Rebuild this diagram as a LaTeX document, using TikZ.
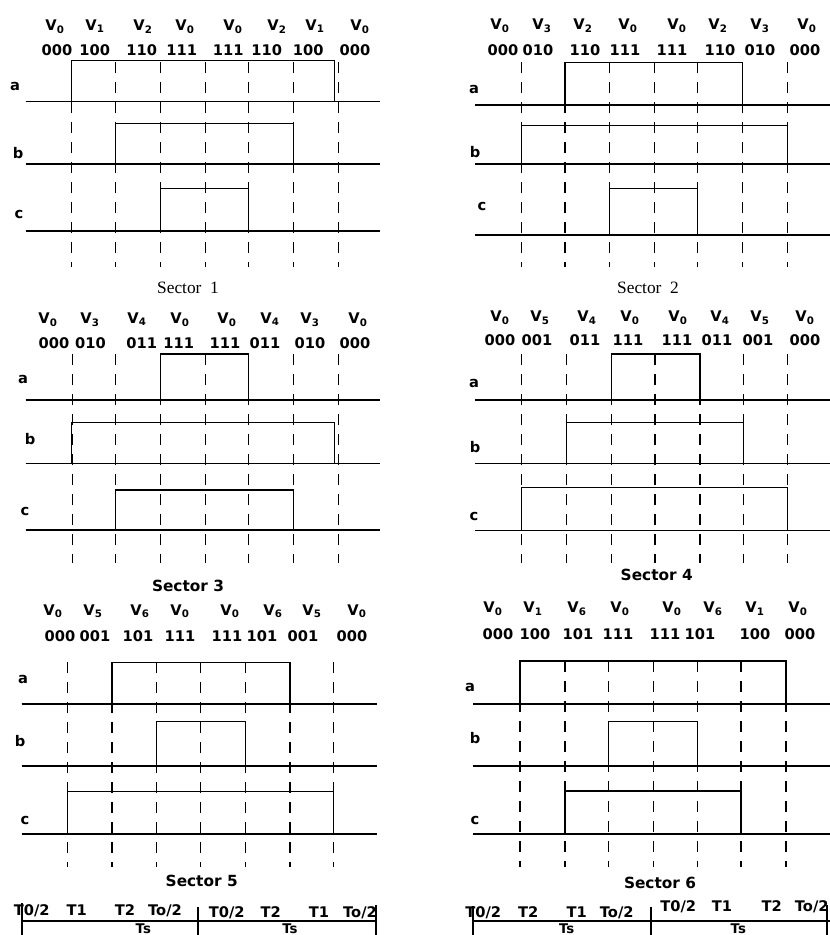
\documentclass[tikz,border=0pt]{standalone}
\usepackage{fontspec}
\setmainfont{DejaVu Sans}
\newfontfamily\timesfont{Liberation Serif}
\usepackage{tikz}
\usetikzlibrary{positioning}

\begin{document}
\begin{tikzpicture}[
  x=0.75pt, y=-0.75pt,
  txt/.style={font=\fontsize{11}{13}\selectfont\bfseries, inner sep=0pt, anchor=base},
  sector/.style={font=\fontsize{11.5}{13}\selectfont\bfseries, inner sep=0pt, anchor=base},
  oldsector/.style={font=\timesfont\fontsize{13}{15}\selectfont, inner sep=0pt, anchor=base},
  slot/.style={line width=1pt, dash pattern=on 8.5pt off 6.5pt},
  rail/.style={line width=1pt},
  wave/.style={line width=1pt},
  tbar/.style={line width=1.3pt}
]
\useasboundingbox (0,0) rectangle (830,935);

% switching instants
\foreach \x in {71.7,115.7,160.7,205.3,248.3,293.3,338.3}
  \draw[slot] (\x,62) -- (\x,267);
\foreach \x in {521.7,565,609.3,654.3,697.7,742.7,787.7}
  \draw[slot] (\x,62) -- (\x,267);
\foreach \x in {72.3,115.7,160.7,205.3,248.3,293.3,338.3}
  \draw[slot] (\x,354) -- (\x,563);
\foreach \x in {521.7,566.7,611.7,655,700,743.3,787.7}
  \draw[slot] (\x,354) -- (\x,563);
\foreach \x in {67.3,112,156.7,200.3,245.3,290,333.3}
  \draw[slot] (\x,662) -- (\x,867);
\foreach \x in {520,565,608.3,653.3,697.7,741,786}
  \draw[slot] (\x,661) -- (\x,867);

% phase waveforms
\foreach \L/\R/\yb/\yh/\xs/\xe/\w in {
  25.7/380/101.7/60.7/71.7/334.3/1,
  25.7/380/164/123.3/115.7/293.3/1,
  25.7/380/231/188.3/160.7/248.3/1,
  475/830/105/62.7/565/742.7/1,
  475/830/164/125.7/521.7/787.7/2.2,
  475/830/235/188.3/609.3/697.7/1,
  25.7/380/400/354/160.7/248.3/1,
  25.7/380/463.3/422.3/71.7/334.3/1,
  25.7/380/530/490/115.7/293.3/2.2,
  475/830/400/354/611.7/700/1,
  475/830/463.3/422.3/566.7/743.3/1,
  475/830/530.7/487.3/521.7/787.7/1,
  21.7/376.7/704/662.7/112/290/2.2,
  21.7/376.7/766/721.7/156.7/245.3/2.2,
  21.7/376.7/834/791.7/67.3/333.3/2.2,
  473.3/830/704/661/520/786/2.2,
  473.3/830/766/721.7/608.3/697.7/2.2,
  473.3/830/834/791/565/741/2.2}
{
  \draw[rail] (\L,\yb) -- (\R,\yb);
  \draw[wave] (\xs,\yb) -- (\xs,\yh) -- (\xe,\yh) -- (\xe,\yb);
  \draw[line width=\w pt] (\L,\yb) -- (\xs,\yb) (\xe,\yb) -- (\R,\yb);
}

% sector 1
\foreach \x/\s [count=\i] in {55/0,95/1,143/2,185/0,233/0,277/2,315/1,360/0}
  \node[txt] (s1v\i) at (\x,30.5) {V\textsubscript{\s}};
\foreach \x/\c [count=\i] in {57/000,94.7/100,141.7/110,181.7/111,228.3/111,266.7/110,308.3/100,355/000}
  \node[txt] (s1c\i) at (\x,55) {\c};
\foreach \n/\x/\y in {a/15/90.7,b/18/158.3,c/19/218.3}
  \node[txt] (s1\n) at (\x,\y) {\n};
\node[oldsector] (sec1) at (188,293.3) {Sector\ \ 1};

% sector 2
\foreach \x/\s [count=\i] in {500/0,542/3,583/2,628/0,677/0,718/2,760/3,807/0}
  \node[txt] (s2v\i) at (\x,29.5) {V\textsubscript{\s}};
\foreach \x/\c [count=\i] in {503/000,538/010,585/110,625/111,672/111,720/110,760/010,805/000}
  \node[txt] (s2c\i) at (\x,55) {\c};
\foreach \n/\x/\y in {a/474/93.3,b/475/157.3,c/482/210.7}
  \node[txt] (s2\n) at (\x,\y) {\n};
\node[oldsector] (sec2) at (648,293.3) {Sector\ \ 2};

% sector 3
\foreach \x/\s [count=\i] in {48/0,90/3,137/4,180/0,227/0,270/4,310/3,358/0}
  \node[txt] (s3v\i) at (\x,323.5) {V\textsubscript{\s}};
\foreach \x/\c [count=\i] in {54/000,90.5/010,141.7/011,178.8/111,225/111,265/011,310/010,355/000}
  \node[txt] (s3c\i) at (\x,348.3) {\c};
\foreach \n/\x/\y in {a/23/383.3,b/30/444,c/25/515}
  \node[txt] (s3\n) at (\x,\y) {\n};
\node[sector] (sec3) at (188,591.7) {Sector 3};

% sector 4
\foreach \x/\s [count=\i] in {500/0,540/5,587/4,630/0,678/0,720/4,760/5,805/0}
  \node[txt] (s4v\i) at (\x,321.7) {V\textsubscript{\s}};
\foreach \x/\c [count=\i] in {500/000,537/001,585/011,628/111,677/111,717/011,758/001,805/000}
  \node[txt] (s4c\i) at (\x,345) {\c};
\foreach \n/\x/\y in {a/474/387.3,b/475/452.3,c/474/520}
  \node[txt] (s4\n) at (\x,\y) {\n};
\node[sector] (sec4) at (656.7,580) {Sector 4};

% sector 5
\foreach \x/\s [count=\i] in {53/0,93/5,140/6,180/0,230/0,273/6,312/5,357/0}
  \node[txt] (s5v\i) at (\x,615) {V\textsubscript{\s}};
\foreach \x/\c [count=\i] in {60/000,95/001,138/101,180/111,227/111,262/101,303/001,352/000}
  \node[txt] (s5c\i) at (\x,641.7) {\c};
\foreach \n/\x/\y in {a/23/683.3,b/20/746,c/25/824}
  \node[txt] (s5\n) at (\x,\y) {\n};
\node[sector] (sec5) at (201.7,886) {Sector 5};

% sector 6
\foreach \x/\s [count=\i] in {493/0,533/1,577/6,620/0,672/0,713/6,755/1,798/0}
  \node[txt] (s6v\i) at (\x,612.7) {V\textsubscript{\s}};
\foreach \x/\c [count=\i] in {498/000,535/100,578/101,618/111,665/111,700/101,755/100,800/000}
  \node[txt] (s6c\i) at (\x,639.3) {\c};
\foreach \n/\x/\y in {a/470/691.7,b/475/743.3,c/475/824}
  \node[txt] (s6\n) at (\x,\y) {\n};
\node[sector] (sec6) at (660,888.7) {Sector 6};

% switching period
\draw[tbar] (21.7,920.7) -- (376,920.7);
\foreach \x/\y in {21.7/903,198.3/907,376/905}
  \draw[tbar] (\x,\y) -- (\x,940);
\draw[tbar] (473.3,920.7) -- (830,920.7);
\foreach \x/\y in {473.3/906,651/907,826.7/905}
  \draw[tbar] (\x,\y) -- (\x,940);
\foreach \x/\y/\t [count=\i] in {31.7/915/T0\slash2,76.7/915/T1,125/915/T2,165/915/To\slash2,
    226.7/917.3/T0\slash2,270.8/917.3/T2,319/917.3/T1,360/917.3/To\slash2}
  \node[txt] (t5\i) at (\x,\y) {\t};
\foreach \x/\y/\t [count=\i] in {483.3/917.3/T0\slash2,528.3/917.3/T2,576.7/917.3/T1,616.7/917.3/To\slash2,
    678.3/911.7/T0\slash2,722/911.7/T1,771.7/911.7/T2,811.7/911.7/To\slash2}
  \node[txt] (t6\i) at (\x,\y) {\t};
\foreach \x [count=\i] in {143.3,290,566.7,738.3}
  \node[txt, font=\fontsize{10}{12}\selectfont\bfseries] (ts\i) at (\x,933) {Ts};
\end{tikzpicture}
\end{document}
